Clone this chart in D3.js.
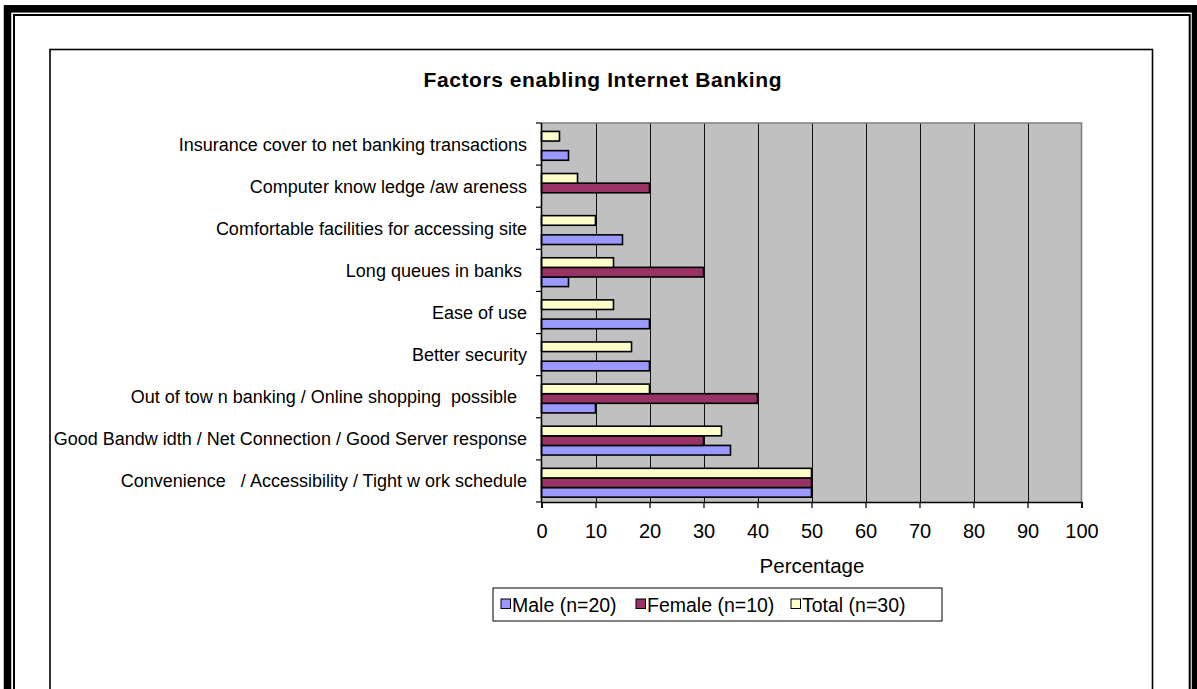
<!DOCTYPE html>
<html>
<head>
<meta charset="utf-8">
<script src="https://cdn.jsdelivr.net/npm/d3@7"></script>
<style>
  html, body { margin: 0; padding: 0; background: #fff; }
  svg { display: block; }
  text { font-family: "Liberation Sans", Arial, sans-serif; fill: #000; white-space: pre; }
</style>
</head>
<body>
<svg id="chart" width="1197" height="689"></svg>
<script>
// Factors listed top to bottom as they appear on the category axis
const categories = [
  "Insurance cover to net banking transactions",
  "Computer know ledge /aw areness",
  "Comfortable facilities for accessing site",
  "Long queues in banks ",
  "Ease of use",
  "Better security",
  "Out of tow n banking / Online shopping  possible  ",
  "Good Bandw idth / Net Connection / Good Server response",
  "Convenience   / Accessibility / Tight w ork schedule"
];
const maleValues   = [5, 0, 15, 5, 20, 20, 10, 35, 50];
const femaleValues = [0, 20, 0, 30, 0, 0, 40, 30, 50];
const totalValues  = [3.33, 6.67, 10, 13.33, 13.33, 16.67, 20, 33.33, 50];
const seriesNames  = ["Male (n=20)", "Female (n=10)", "Total (n=30)"];
const seriesKeys   = ["male", "female", "total"];
const xTicks       = [0, 10, 20, 30, 40, 50, 60, 70, 80, 90, 100];
const chartTitle   = "Factors enabling Internet Banking";
const xAxisTitle   = "Percentage";

const colors = { male: "#9999FF", female: "#993366", total: "#FFFFCC" };

const svg = d3.select("#chart");

// Page frame: thick outer rule with a thin inner rule
svg.append("rect").attr("x", 7.5).attr("y", 8.8).attr("width", 1188).attr("height", 700)
  .attr("fill", "none").attr("stroke", "#000").attr("stroke-width", 7.5);
svg.append("rect").attr("x", 14).attr("y", 15).attr("width", 1175.7).attr("height", 700)
  .attr("fill", "none").attr("stroke", "#000").attr("stroke-width", 2);

// Chart area border
svg.append("rect").attr("x", 50).attr("y", 49.5).attr("width", 1102.5).attr("height", 700)
  .attr("fill", "#fff").attr("stroke", "#000").attr("stroke-width", 1.6);

// Plot geometry
const plot = { left: 541.5, right: 1081.5, top: 123, bottom: 502 };

const x = d3.scaleLinear().domain([0, 100]).range([plot.left, plot.right]);
const y = d3.scaleBand().domain(categories).range([plot.top, plot.bottom]).padding(0);
const bw = y.bandwidth();
// Series within a category: Total on top, Female, Male at bottom
const ySub = d3.scaleBand().domain(["total", "female", "male"])
  .range([bw * 0.2, bw * 0.885]).padding(0);

// Plot background
svg.append("rect")
  .attr("x", plot.left).attr("y", plot.top)
  .attr("width", plot.right - plot.left).attr("height", plot.bottom - plot.top)
  .attr("fill", "#C0C0C0");

// Vertical gridlines
svg.append("g").selectAll("line").data(xTicks.filter(t => t > 0 && t < 100)).join("line")
  .attr("x1", d => Math.round(x(d)) + 0.5).attr("x2", d => Math.round(x(d)) + 0.5)
  .attr("y1", plot.top).attr("y2", plot.bottom)
  .attr("stroke", "#111").attr("stroke-width", 1);

// Plot border (top / right)
svg.append("path")
  .attr("d", `M${plot.left},${plot.top}H${plot.right}V${plot.bottom}`)
  .attr("fill", "none").attr("stroke", "#808080").attr("stroke-width", 1.6);

// Bars
const rows = categories.map((c, i) => ({
  cat: c, male: maleValues[i], female: femaleValues[i], total: totalValues[i]
}));
const barData = [];
rows.forEach(r => seriesKeys.forEach(k => { if (r[k] > 0) barData.push({ cat: r.cat, key: k, value: r[k] }); }));

svg.append("g").selectAll("rect").data(barData).join("rect")
  .attr("x", x(0))
  .attr("y", d => y(d.cat) + ySub(d.key))
  .attr("width", d => x(d.value) - x(0))
  .attr("height", ySub.bandwidth())
  .attr("fill", d => colors[d.key])
  .attr("stroke", "#000").attr("stroke-width", 1.6);

// X axis
const xAxis = d3.axisBottom(x).tickValues(xTicks).tickSize(6).tickPadding(10).tickFormat(d3.format("d"));
const gx = svg.append("g").attr("transform", `translate(0,${plot.bottom})`).call(xAxis);
gx.select(".domain").attr("stroke", "#000").attr("stroke-width", 1.6);
gx.selectAll(".tick line").attr("stroke", "#000").attr("stroke-width", 1.2);
gx.selectAll(".tick text").attr("font-size", 20).attr("font-family", "Liberation Sans, Arial, sans-serif")
  .attr("dy", "0.71em").attr("y", 22);

// Y axis line and category-boundary ticks
svg.append("line").attr("x1", plot.left).attr("x2", plot.left)
  .attr("y1", plot.top).attr("y2", plot.bottom).attr("stroke", "#000").attr("stroke-width", 1.6);
const boundaries = categories.map(c => y(c)).concat([plot.bottom]);
svg.append("g").selectAll("line").data(boundaries).join("line")
  .attr("x1", plot.left - 5.5).attr("x2", plot.left)
  .attr("y1", d => d).attr("y2", d => d)
  .attr("stroke", "#000").attr("stroke-width", 1.2);

// Category labels
svg.append("g").selectAll("text").data(categories).join("text")
  .attr("x", 527).attr("y", d => y(d) + bw / 2 + 6.5)
  .attr("text-anchor", "end").attr("font-size", 18)
  .text(d => d);

// Titles
svg.append("text").attr("x", 602.5).attr("y", 87).attr("text-anchor", "middle")
  .attr("font-size", 21).attr("font-weight", "bold")
  .attr("textLength", 358).attr("lengthAdjust", "spacing")
  .text(chartTitle);
svg.append("text").attr("x", 812).attr("y", 573).attr("text-anchor", "middle")
  .attr("font-size", 20.5).text(xAxisTitle);

// Legend
const legend = svg.append("g");
legend.append("rect").attr("x", 493).attr("y", 588).attr("width", 449).attr("height", 33)
  .attr("fill", "#fff").attr("stroke", "#000").attr("stroke-width", 1);
const legendX = [501, 636, 791];
seriesKeys.forEach((k, i) => {
  legend.append("rect").attr("x", legendX[i]).attr("y", 599).attr("width", 9.5).attr("height", 9.5)
    .attr("fill", colors[k]).attr("stroke", "#000").attr("stroke-width", 1);
  legend.append("text").attr("x", legendX[i] + 11).attr("y", 611.5)
    .attr("font-size", 19.5).text(seriesNames[i]);
});
</script>
</body>
</html>
